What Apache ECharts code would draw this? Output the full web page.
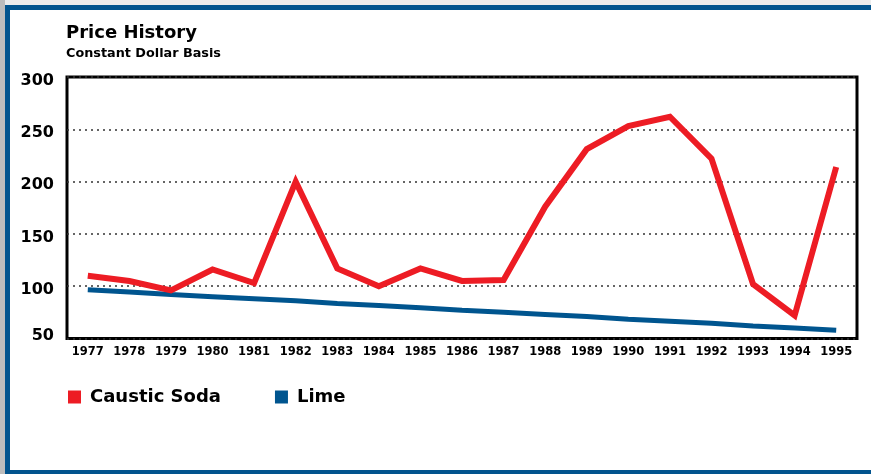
<!DOCTYPE html>
<html>
<head>
<meta charset="utf-8">
<script src="https://cdn.jsdelivr.net/npm/echarts@6/dist/echarts.min.js"></script>
<style>
html,body{margin:0;padding:0;background:#fff;}
#chart{width:871px;height:474px;}
</style>
</head>
<body>
<div id="chart"></div>
<script>
const years = ['1977','1978','1979','1980','1981','1982','1983','1984','1985','1986','1987','1988','1989','1990','1991','1992','1993','1994','1995'];
const causticSoda = [110,105,96,116,103,200,117,100,117,105,106,176,231,253,262,222,102,72,214];
const lime = [96.5,94.5,92,90,88,86,83.5,81.5,79.5,77,75,73,71,68.5,66.5,64.5,62,60,58];
const yTicks = [50,100,150,200,250,300];
const seriesNames = ['Caustic Soda','Lime'];

const FONT = 'DejaVu Sans';
const RED = '#ED1C24';
const BLUE = '#00558F';
const FRAME = '#02548E';

const chart = echarts.init(document.getElementById('chart'), null, {renderer:'canvas'});
chart.setOption({
  animation:false,
  backgroundColor:'#fff',
  title:{
    text:'Price History',
    subtext:'Constant Dollar Basis',
    left:66, top:24, itemGap:5, padding:0,
    textStyle:{fontFamily:FONT,fontWeight:'bold',fontSize:18,color:'#000'},
    subtextStyle:{fontFamily:FONT,fontWeight:'bold',fontSize:12.8,color:'#000'}
  },
  legend:{
    left:68, top:388, padding:0, itemGap:54,
    itemWidth:13, itemHeight:13, icon:'rect',
    data:seriesNames,
    textStyle:{fontFamily:FONT,fontWeight:'bold',fontSize:18,color:'#000',padding:[0,0,0,4]}
  },
  grid:{
    left:67, right:14, top:77, bottom:135.5,
    show:true, borderColor:'#000', borderWidth:3, backgroundColor:'transparent'
  },
  xAxis:{
    type:'category', data:years, boundaryGap:true,
    axisLine:{show:false}, axisTick:{show:false},
    axisLabel:{fontFamily:FONT,fontWeight:'bold',fontSize:11.5,color:'#000',margin:8,interval:0},
    splitLine:{show:false}
  },
  yAxis:{
    type:'value', min:yTicks[0], max:yTicks[yTicks.length-1], interval:50,
    axisLine:{show:false}, axisTick:{show:false},
    axisLabel:{
      fontFamily:FONT,fontWeight:'bold',fontSize:16,color:'#000',margin:13,
      formatter:function(v){ return v === yTicks[0] ? '{lo|' + v + '}' : '{hi|' + v + '}'; },
      rich:{
        hi:{fontFamily:FONT,fontWeight:'bold',fontSize:16,color:'#000',padding:[7,0,0,0]},
        lo:{fontFamily:FONT,fontWeight:'bold',fontSize:16,color:'#000',padding:[0,0,6,0]}
      }
    },
    splitLine:{show:true,lineStyle:{color:'#333',width:1.5,type:[2,4]}}
  },
  graphic:[
    {type:'rect',shape:{x:0,y:0,width:871,height:5},style:{fill:'#ececec'},silent:true},
    {type:'rect',shape:{x:0,y:0,width:5,height:474},style:{fill:'#bdbdbd'},silent:true},
    {type:'rect',shape:{x:5,y:5,width:866,height:5},style:{fill:FRAME},silent:true},
    {type:'rect',shape:{x:5,y:5,width:5,height:469},style:{fill:FRAME},silent:true},
    {type:'rect',shape:{x:5,y:470,width:866,height:4},style:{fill:FRAME},silent:true}
  ],
  series:[
    {
      name:seriesNames[1], type:'line', data:lime, symbol:'none', z:2,
      itemStyle:{color:BLUE},
      lineStyle:{color:BLUE,width:5,cap:'butt'}
    },
    {
      name:seriesNames[0], type:'line', data:causticSoda, symbol:'none', z:3,
      itemStyle:{color:RED},
      lineStyle:{color:RED,width:6,join:'miter',cap:'butt'}
    }
  ]
});
</script>
</body>
</html>
